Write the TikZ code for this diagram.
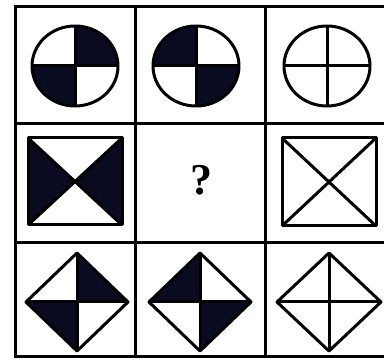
\documentclass[tikz,border=0pt]{standalone}
\usepackage{fontspec}
\newfontfamily\qfont{Liberation Serif}
\definecolor{ink}{RGB}{10,10,32}
\tikzset{
  grid/.style={line width=3pt,draw=black},
  outline/.style={line width=3pt,draw=black,line join=round},
  dark/.style={fill=ink}
}
\begin{document}
\begin{tikzpicture}[x=1pt,y=-1pt]
\useasboundingbox (0,0) rectangle (384,361);
\clip (0,0) rectangle (384,361);
% grid
\draw[grid] (15,7) rectangle (392,357);
\draw[grid] (135,7) -- (135,357);
\draw[grid] (265,7) -- (265,357);
\draw[grid] (15,124) -- (392,124);
\draw[grid] (15,243) -- (392,243);

% row 1: circles
\begin{scope}
  \clip (75,66) ellipse [x radius=43pt,y radius=40pt];
  \fill[dark] (75,66) rectangle (125,20);
  \fill[dark] (75,66) rectangle (25,112);
\end{scope}
\draw[outline] (75,66) ellipse [x radius=43pt,y radius=40pt];
\draw[outline] (32,66) -- (118,66) (75,26) -- (75,106);

\begin{scope}
  \clip (196,66) ellipse [x radius=43pt,y radius=40pt];
  \fill[dark] (196,66) rectangle (146,20);
  \fill[dark] (196,66) rectangle (246,112);
\end{scope}
\draw[outline] (196,66) ellipse [x radius=43pt,y radius=40pt];
\draw[outline] (153,66) -- (239,66) (196,26) -- (196,106);

\draw[outline] (327,66) ellipse [x radius=43pt,y radius=40pt];
\draw[outline] (284,66) -- (370,66) (327,26) -- (327,106);

% row 2
\fill[dark] (28,138) -- (75,181.5) -- (28,225) -- cycle;
\fill[dark] (122,138) -- (75,181.5) -- (122,225) -- cycle;
\draw[outline] (28,138) rectangle (122,225);
\draw[outline] (28,138) -- (122,225) (122,138) -- (28,225);

\node[font=\qfont\bfseries\fontsize{44}{44}\selectfont, inner sep=0pt] (q) at (201,180) {?};

\draw[outline] (282,138) rectangle (376,226);
\draw[outline] (282,138) -- (376,226) (376,138) -- (282,226);

% row 3: diamonds
\fill[dark] (77,302) -- (77,253) -- (128,302) -- cycle;
\fill[dark] (77,302) -- (26,302) -- (77,351) -- cycle;
\draw[outline] (26,302) -- (77,253) -- (128,302) -- (77,351) -- cycle;
\draw[outline] (26,302) -- (128,302) (77,253) -- (77,351);

\fill[dark] (200,302) -- (200,253) -- (149,302) -- cycle;
\fill[dark] (200,302) -- (251,302) -- (200,351) -- cycle;
\draw[outline] (149,302) -- (200,253) -- (251,302) -- (200,351) -- cycle;
\draw[outline] (149,302) -- (251,302) (200,253) -- (200,351);

\draw[outline] (277,302) -- (329,253) -- (381,302) -- (329,351) -- cycle;
\draw[outline] (277,302) -- (381,302) (329,253) -- (329,351);
\end{tikzpicture}
\end{document}
